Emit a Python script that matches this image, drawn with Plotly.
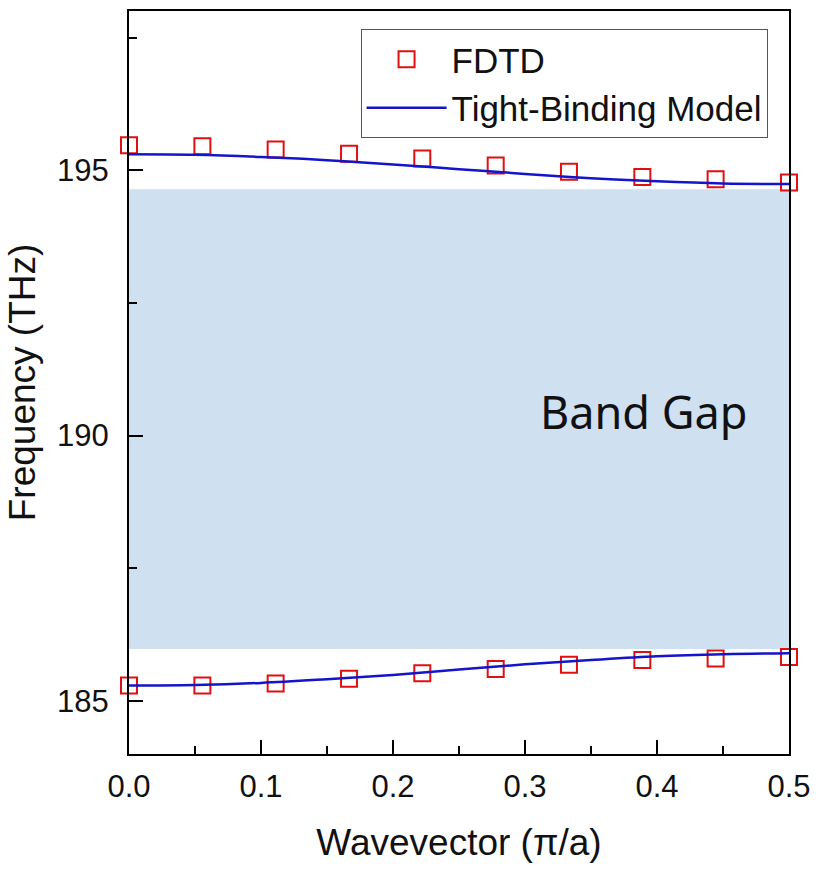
import plotly.graph_objects as go

# FDTD points (wavevector in pi/a, frequency in THz)
k_fdtd = [0.0, 0.0556, 0.1111, 0.1667, 0.2222, 0.2778, 0.3333, 0.3889, 0.4444, 0.5]
f_upper_fdtd = [195.47, 195.45, 195.39, 195.31, 195.22, 195.09, 194.97, 194.87, 194.83, 194.77]
f_lower_fdtd = [185.29, 185.29, 185.33, 185.42, 185.52, 185.60, 185.68, 185.77, 185.80, 185.83]

# Tight-binding model curves
k_tb = [0.0, 0.05, 0.10, 0.15, 0.20, 0.25, 0.30, 0.35, 0.40, 0.45, 0.50]
f_upper_tb = [195.30, 195.29, 195.25, 195.19, 195.11, 195.02, 194.93, 194.85, 194.79, 194.75, 194.74]
f_lower_tb = [185.29, 185.30, 185.34, 185.41, 185.49, 185.59, 185.69, 185.77, 185.84, 185.88, 185.90]

# Band gap region
gap_bottom = 185.98
gap_top = 194.64
gap_label = "Band Gap"

x_ticks = [0.0, 0.1, 0.2, 0.3, 0.4, 0.5]
x_ticklabels = ["0.0", "0.1", "0.2", "0.3", "0.4", "0.5"]
y_ticks = [185, 190, 195]
y_ticklabels = ["185", "190", "195"]

RED = "#e01010"
BLUE = "#1414cc"
FONT = "Liberation Sans, Arial, sans-serif"

fig = go.Figure()

fig.add_shape(type="rect", xref="x", yref="y", x0=0, x1=0.5, y0=gap_bottom, y1=gap_top,
              fillcolor="#cfe0f1", line_width=0, layer="below")

fig.add_trace(go.Scatter(x=k_fdtd, y=f_upper_fdtd, mode="markers", name="FDTD",
                         marker=dict(symbol="square-open", size=16, color=RED, line=dict(width=2, color=RED)),
                         cliponaxis=False, legendrank=1))
fig.add_trace(go.Scatter(x=k_fdtd, y=f_lower_fdtd, mode="markers", name="FDTD", showlegend=False,
                         marker=dict(symbol="square-open", size=16, color=RED, line=dict(width=2, color=RED)),
                         cliponaxis=False))
fig.add_trace(go.Scatter(x=k_tb, y=f_upper_tb, mode="lines", name="Tight-Binding Model",
                         line=dict(color=BLUE, width=2.5, shape="spline"), legendrank=2))
fig.add_trace(go.Scatter(x=k_tb, y=f_lower_tb, mode="lines", name="Tight-Binding Model", showlegend=False,
                         line=dict(color=BLUE, width=2.5, shape="spline")))

fig.add_annotation(x=0.39, y=190.45, xref="x", yref="y", text=gap_label, showarrow=False,
                   font=dict(family="Noto Sans, Open Sans, sans-serif", size=45, color="#111111"))

fig.update_layout(
    width=820, height=875,
    margin=dict(l=129, r=28, t=9, b=121),
    paper_bgcolor="white", plot_bgcolor="white",
    font=dict(family=FONT, color="#111111"),
    legend=dict(x=0.9675, y=0.9758, xanchor="right", yanchor="top",
                bordercolor="#555555", borderwidth=1, bgcolor="white",
                font=dict(size=35, family=FONT), itemwidth=80, tracegroupgap=0),
)

fig.update_xaxes(
    range=[0, 0.5], tickvals=x_ticks, ticktext=x_ticklabels,
    ticks="inside", ticklen=14, tickwidth=2, tickcolor="black",
    minor=dict(ticks="inside", ticklen=8, tickwidth=2, tickcolor="black", dtick=0.05),
    showline=True, linewidth=2, linecolor="black", mirror=True,
    showgrid=False, zeroline=False,
    tickfont=dict(size=31, family=FONT), ticklabelstandoff=4,
    title=dict(text="Wavevector (π/a)", font=dict(size=37, family=FONT), standoff=26),
)
fig.update_yaxes(
    range=[184, 198], tickvals=y_ticks, ticktext=y_ticklabels,
    ticks="inside", ticklen=14, tickwidth=2, tickcolor="black",
    minor=dict(ticks="inside", ticklen=8, tickwidth=2, tickcolor="black", dtick=2.5),
    showline=True, linewidth=2, linecolor="black", mirror=True,
    showgrid=False, zeroline=False,
    tickfont=dict(size=31, family=FONT), ticklabelstandoff=12,
    title=dict(text="Frequency (THz)", font=dict(size=37, family=FONT), standoff=10),
)

fig.write_html("out.html")
